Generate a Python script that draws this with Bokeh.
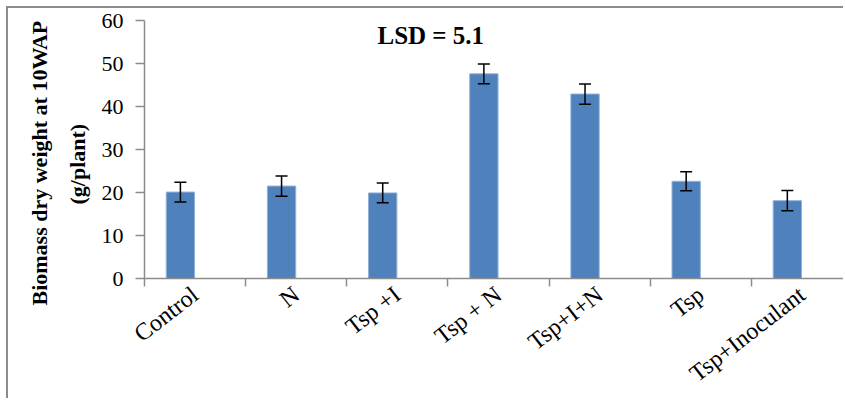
from bokeh.plotting import figure
from bokeh.models import (ColumnDataSource, Range1d, LinearAxis, FixedTicker,
                          Whisker, TeeHead, Label, Title)
from bokeh.transform import dodge
from bokeh.embed import file_html
from bokeh.resources import INLINE

# ---- data ----
treatments = ["Control", "N", "Tsp +I", "Tsp + N", "Tsp+I+N", "Tsp", "Tsp+Inoculant"]
biomass = [20.1, 21.5, 19.9, 47.6, 42.9, 22.6, 18.1]
errors = [2.3, 2.35, 2.3, 2.3, 2.35, 2.2, 2.35]
y_ticks = [0, 10, 20, 30, 40, 50, 60]
lsd_text = "LSD = 5.1"
x_title = "Fertilizer treatments"
y_title_lines = ["Biomass dry weight at 10WAP", "(g/plant)"]

xs = [i + 0.5 for i in range(len(treatments))]
source = ColumnDataSource(dict(
    x=xs,
    y=biomass,
    upper=[v + e for v, e in zip(biomass, errors)],
    lower=[v - e for v, e in zip(biomass, errors)],
))

FONT = "Liberation Serif"
GRAY = "#8c8c8c"

p = figure(width=837, height=392, output_backend="svg", toolbar_location=None,
           x_range=Range1d(0, 6.93), y_range=Range1d(0, 60),
           x_axis_type=None, y_axis_type=None,
           min_border_left=136, min_border_right=0,
           min_border_top=12, min_border_bottom=122)
p.styles = {"margin-left": "6px", "margin-top": "6px",
            "border-left": "2px solid #8c8c8c", "border-top": "2px solid #8c8c8c"}
p.outline_line_color = None
p.background_fill_color = "white"
p.border_fill_color = "white"

# y axis
yaxis = LinearAxis(ticker=FixedTicker(ticks=y_ticks, minor_ticks=[]))
yaxis.axis_line_color = GRAY
yaxis.axis_line_width = 1.5
yaxis.major_tick_line_color = GRAY
yaxis.major_tick_line_width = 1.5
yaxis.major_tick_out = 9
yaxis.major_tick_in = 0
yaxis.minor_tick_line_color = None
yaxis.major_label_text_font = FONT
yaxis.major_label_text_font_size = "22px"
yaxis.major_label_text_color = "black"
yaxis.major_label_standoff = 12
p.add_layout(yaxis, "left")

# y-axis title as two side titles (inner line "(g/plant)" first, then outer line)
for line, so, off in [(y_title_lines[1], 18, 74), (y_title_lines[0], 4, -27)]:
    p.add_layout(Title(text=line, align="left", offset=off, standoff=so,
                       text_font=FONT, text_font_style="bold",
                       text_font_size="22px", text_color="black"), "left")

# x axis: labels at category centres, ticks at category boundaries
xaxis = LinearAxis(ticker=FixedTicker(ticks=xs,
                                      minor_ticks=list(range(len(treatments) + 1))))
xaxis.major_label_overrides = {x: t for x, t in zip(xs, treatments)}
xaxis.axis_line_color = GRAY
xaxis.axis_line_width = 1.5
xaxis.major_tick_line_color = None
xaxis.minor_tick_line_color = GRAY
xaxis.minor_tick_line_width = 1.5
xaxis.minor_tick_out = 8
xaxis.minor_tick_in = 0
xaxis.major_label_orientation = 0.66
xaxis.major_label_text_font = FONT
xaxis.major_label_text_font_size = "24px"
xaxis.major_label_text_color = "black"
xaxis.major_label_standoff = 5
p.add_layout(xaxis, "below")

p.xgrid.visible = False
p.ygrid.visible = False

# bars (offset left within each category like the original clustered chart)
p.vbar(x=dodge("x", -0.145), top="y", width=0.28, bottom=0, source=source,
       fill_color="#4f81bd", line_color="#93b1d8", line_width=1)

whisk = Whisker(source=source, base=dodge("x", -0.145), upper="upper", lower="lower",
                dimension="height", line_color="black", line_width=1.5, level="overlay",
                upper_head=TeeHead(size=12, line_color="black", line_width=1.5),
                lower_head=TeeHead(size=12, line_color="black", line_width=1.5))
p.add_layout(whisk)

p.add_layout(Label(x=2.83, y=56.4, text=lsd_text, text_align="center",
                   text_baseline="middle", text_font=FONT, text_font_style="bold",
                   text_font_size="25px", text_color="black"))
p.add_layout(Label(x=2.72, y=-22.3, text=x_title, text_align="center",
                   text_baseline="middle", text_font=FONT, text_font_style="bold",
                   text_font_size="25px", text_color="black"))

open("out.html", "w").write(file_html(p, INLINE))
